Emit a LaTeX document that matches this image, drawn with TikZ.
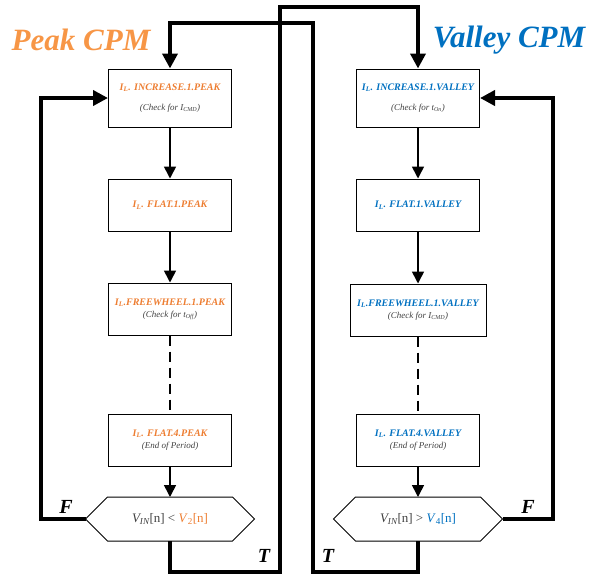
\documentclass[tikz,border=0pt]{standalone}
\usepackage{fontspec}
\setmainfont{Liberation Serif}
\usetikzlibrary{arrows.meta,positioning}
\definecolor{peakorange}{RGB}{237,125,49}
\definecolor{titleorange}{RGB}{247,150,70}
\definecolor{valleyblue}{RGB}{0,112,192}
\definecolor{notegray}{RGB}{64,64,64}
\newcommand{\IL}{I\textsubscript{L}}
\newcommand{\note}[1]{{\mdseries\color{notegray}\fontsize{9}{11}\selectfont #1}}
\tikzset{
    statebox/.style={draw, line width=1pt, minimum width=123pt, minimum height=52pt,
        align=center, inner sep=2pt, font=\bfseries\itshape\fontsize{10}{12}\selectfont},
    hexnode/.style={minimum width=169pt, minimum height=44pt, inner sep=0pt, outer sep=0pt,
        font=\fontsize{13}{15}\selectfont, text=notegray},
    flow/.style={line width=1.6pt, -{Triangle[length=12pt,width=12pt]}},
    feedback/.style={line width=4pt, line join=miter, -{Triangle[length=15pt,width=15pt]}},
    branch/.style={font=\bfseries\itshape\fontsize{20}{20}\selectfont},
    heading/.style={font=\bfseries\itshape\fontsize{31}{31}\selectfont}
}
\begin{document}
\begin{tikzpicture}[x=1pt,y=-1pt]
    \useasboundingbox (0,0) rectangle (602,574);
    % titles
    \node[heading, text=titleorange] (peakT) at (81,40) {Peak CPM};
    \node[heading, text=valleyblue] (valleyT) at (509,40) {Valley CPM};
    % peak column
    \node[statebox, minimum height=58pt, text=peakorange] (boxL1) at (170,98)
        {\IL. INCREASE.1.PEAK\\[8pt]\note{(Check for I\textsubscript{CMD})}};
    \node[statebox, text=peakorange] (boxL2) at (170,205) {\IL. FLAT.1.PEAK};
    \node[statebox, text=peakorange] (boxL3) at (170,309)
        {\IL.FREEWHEEL.1.PEAK\\\note{(Check for t\textsubscript{Off})}};
    \node[statebox, text=peakorange] (boxL4) at (170,440)
        {\IL. FLAT.4.PEAK\\\note{(End of Period)}};
    \node[hexnode] (hexL) at (170,519)
        {\textit{V\textsubscript{IN}}[n] {<} {\color{peakorange}\textit{V}\textsubscript{2}[n]}};
    % valley column
    \node[statebox, minimum height=58pt, text=valleyblue] (boxR1) at (418,98)
        {\IL. INCREASE.1.VALLEY\\[8pt]\note{(Check for t\textsubscript{On})}};
    \node[statebox, text=valleyblue] (boxR2) at (418,205) {\IL. FLAT.1.VALLEY};
    \node[statebox, minimum width=136pt, text=valleyblue] (boxR3) at (418,310)
        {\IL.FREEWHEEL.1.VALLEY\\\note{(Check for I\textsubscript{CMD})}};
    \node[statebox, text=valleyblue] (boxR4) at (418,440)
        {\IL. FLAT.4.VALLEY\\\note{(End of Period)}};
    \node[hexnode] (hexR) at (418,519)
        {\textit{V\textsubscript{IN}}[n] {>} {\color{valleyblue}\textit{V}\textsubscript{4}[n]}};
    % hexagon outlines
    \foreach \h in {hexL,hexR}
        \draw[line width=1pt] (\h.west) -- ([xshift=22pt]\h.north west) -- ([xshift=-22pt]\h.north east)
            -- (\h.east) -- ([xshift=-22pt]\h.south east) -- ([xshift=22pt]\h.south west) -- cycle;
    % inner flow
    \foreach \c in {L,R}{
        \draw[flow] (box\c1) -- (box\c2);
        \draw[flow] (box\c2) -- (box\c3);
        \draw[line width=1.2pt, dash pattern=on 10pt off 6pt] (box\c3) -- (box\c4);
        \draw[flow] (box\c4) -- (hex\c);
    }
    % loops
    \coordinate (cornerLB) at (280,572);
    \coordinate (cornerLT) at (280,7);
    \coordinate (cornerRB) at (313,572);
    \coordinate (cornerRT) at (313,23);
    \draw[feedback] (hexL.west) -- ++(-45,0) |- (boxL1.west);
    \draw[feedback] (hexR.east) -- ++(50,0) |- (boxR1.east);
    \draw[feedback] (hexL.south) |- (cornerLB) -- (cornerLT) -| (boxR1.north);
    \draw[feedback] (hexR.south) |- (cornerRB) -- (cornerRT) -| (boxL1.north);
    % branch labels
    \node[branch] (fL) at (66,507) {F};
    \node[branch] (tL) at (264,556) {T};
    \node[branch] (tR) at (328,556) {T};
    \node[branch] (fR) at (528,507) {F};
\end{tikzpicture}
\end{document}
